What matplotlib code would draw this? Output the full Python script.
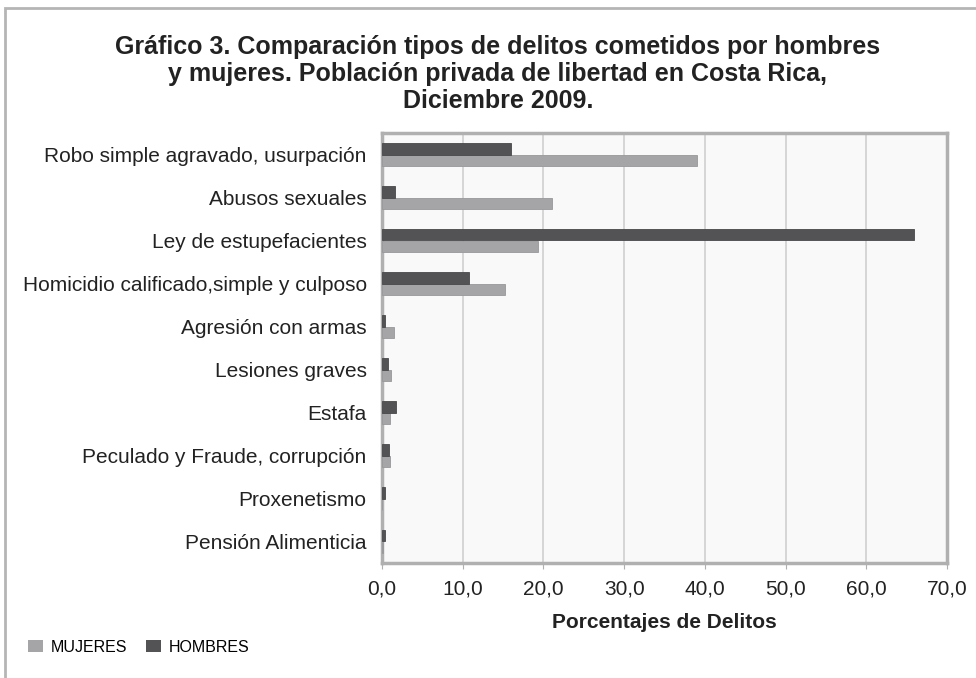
import matplotlib
matplotlib.use("Agg")
import matplotlib.pyplot as plt
import numpy as np
from matplotlib.patches import Rectangle, Patch

categories = ["Robo simple agravado, usurpación", "Abusos sexuales", "Ley de estupefacientes",
              "Homicidio calificado,simple y culposo", "Agresión con armas", "Lesiones graves",
              "Estafa", "Peculado y Fraude, corrupción", "Proxenetismo", "Pensión Alimenticia"]
mujeres = [39.0, 21.1, 19.3, 15.2, 1.5, 1.1, 1.0, 1.0, 0.05, 0.1]
hombres = [16.0, 1.6, 65.9, 10.8, 0.4, 0.7, 1.7, 0.9, 0.4, 0.4]
xticks = [0, 10, 20, 30, 40, 50, 60, 70]
xticklabels = ["0,0", "10,0", "20,0", "30,0", "40,0", "50,0", "60,0", "70,0"]

plt.rcParams['font.family'] = ['Liberation Sans', 'DejaVu Sans']

fig = plt.figure(figsize=(9.76, 6.78), dpi=100)
fig.patch.set_facecolor('white')
# outer frame
fig.add_artist(Rectangle((5/976, -0.1), 1.2, (678-8)/678 + 0.1, transform=fig.transFigure,
                         fill=False, edgecolor='#b5b5b5', linewidth=2))

ax = fig.add_axes([382/976, (678-563)/678, 565/976, 430/678])
ax.set_facecolor('#f9f9f9')

y = np.arange(len(categories))
h = 0.26
c_m = '#a5a5a8'
c_h = '#535356'
ax.barh(y + h/2, mujeres, height=h, color=c_m, edgecolor='#98989b', linewidth=0.6, zorder=3)
ax.barh(y - h/2, hombres, height=h, color=c_h, edgecolor='#48484b', linewidth=0.6, zorder=3)

ax.set_ylim(len(categories) - 0.5, -0.5)
ax.set_xlim(0, 70)
ax.set_yticks(y)
ax.set_yticklabels(categories, fontsize=15, color='#222222')
ax.set_xticks(xticks)
ax.set_xticklabels(xticklabels, fontsize=15, color='#222222')
ax.tick_params(axis='y', length=0, pad=11)
ax.tick_params(axis='x', length=4, color='#b0b0b0', pad=8)
ax.xaxis.grid(True, color='#cfcfcf', linewidth=1.2, zorder=0)
ax.set_axisbelow(True)
for s in ax.spines.values():
    s.set_color('#b0b0b0')
    s.set_linewidth(2.5)

ax.set_xlabel("Porcentajes de Delitos", fontsize=15, fontweight='bold', color='#222222', labelpad=10)

fig.text(498/976, 1 - 35/678, "Gráfico 3. Comparación tipos de delitos cometidos por hombres\n"
         "y mujeres. Población privada de libertad en Costa Rica,\nDiciembre 2009.",
         ha='center', va='top', fontsize=18, fontweight='bold', color='#222222', linespacing=1.17)

handles = [Patch(facecolor=c_m, edgecolor='none'), Patch(facecolor=c_h, edgecolor='none')]
fig.legend(handles, ["MUJERES", "HOMBRES"], loc='center left', bbox_to_anchor=(14/976, 1 - 647/678),
           ncol=2, frameon=False, fontsize=11.5, handlelength=0.9, handleheight=0.8,
           handletextpad=0.5, columnspacing=1.2)

fig.savefig("out.png", dpi=100)
